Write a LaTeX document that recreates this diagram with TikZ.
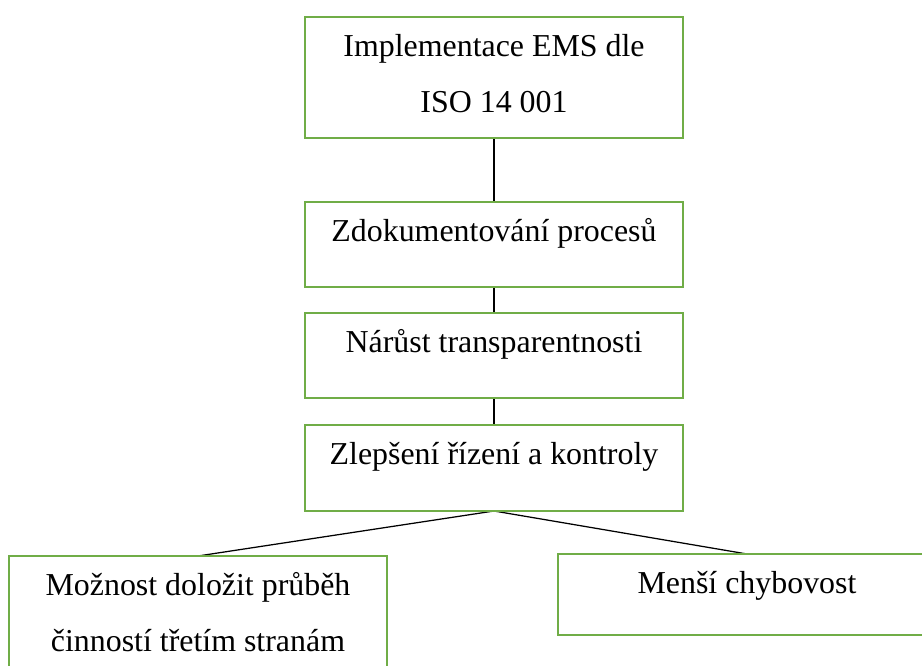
\documentclass[tikz,border=0pt]{standalone}
\usepackage{fontspec}
\setmainfont{Liberation Serif}
\usepackage{tikz}
\definecolor{boxgreen}{RGB}{112,173,71}
\pgfdeclarelayer{edgelayer}
\pgfdeclarelayer{nodelayer}
\pgfsetlayers{edgelayer,nodelayer,main}
\tikzstyle{box}=[rectangle,draw=boxgreen,fill=white,line width=0.05cm,minimum width=7.56cm,inner sep=0pt,outer sep=0pt,align=center,anchor=north,text height=0.8cm,font=\fontsize{18.15pt}{31.9pt}\selectfont]
\tikzstyle{twoline}=[text height=1.92cm,text depth=0.5cm]
\tikzstyle{link}=[draw=black,line width=0.04cm]
\tikzstyle{branch}=[draw=black,line width=0.025cm]

\begin{document}
\begin{tikzpicture}
        \useasboundingbox (0, 0) rectangle (18.44, -13.32);
        \begin{pgfonlayer}{nodelayer}
            \node [style = box, style = twoline] (ems) at (9.88, -0.34) {Implementace EMS dle\\ISO 14 001};
            \node [style = box, text depth=0.9cm] (docs) at (9.88, -4.04) {Zdokumentování procesů};
            \node [style = box, text depth=0.9cm] (transp) at (9.88, -6.26) {Nárůst transparentnosti};
            \node [style = box, text depth=0.92cm] (ctrl) at (9.88, -8.5) {Zlepšení řízení a kontroly};

            \node [style = box, style = twoline] (proof) at (3.96, -11.12) {Možnost doložit průběh\\činností třetím stranám};
            \node [style = box, text depth=0.82cm] (errors) at (14.94, -11.08) {Menší chybovost};
        \end{pgfonlayer}

        \begin{pgfonlayer}{edgelayer}
            \draw [style = link] (ems) to (docs);
            \draw [style = link] (docs) to (transp);
            \draw [style = link] (transp) to (ctrl);

            \draw [style = branch] (ctrl.south) to (proof.north);
            \draw [style = branch] (ctrl.south) to (errors.north);
        \end{pgfonlayer}
    \end{tikzpicture}
\end{document}
